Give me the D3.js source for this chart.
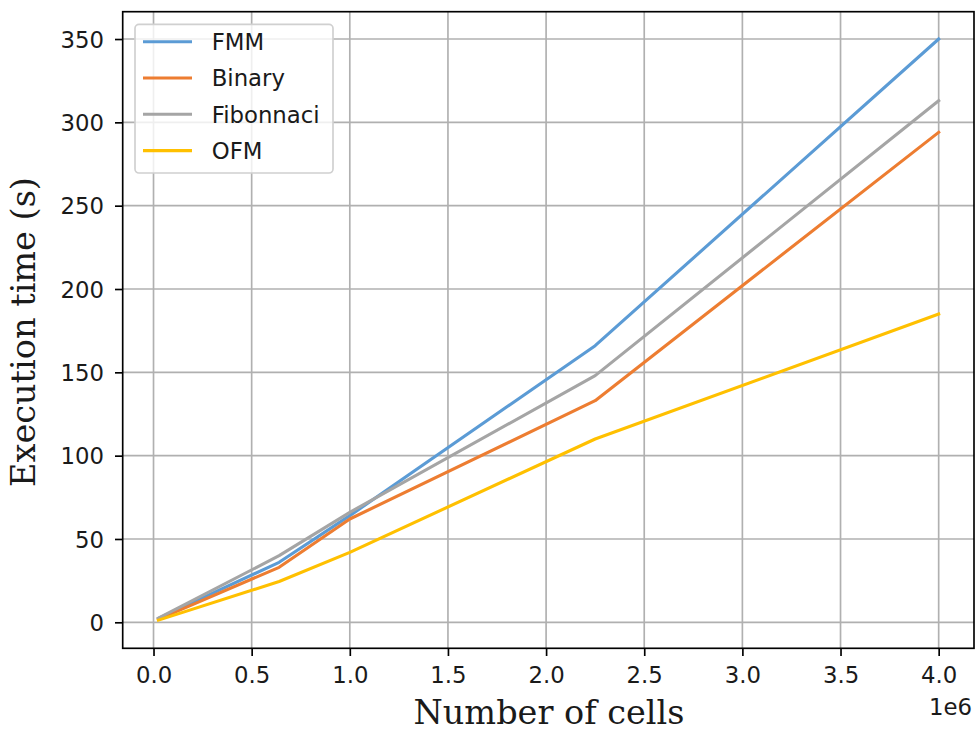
<!DOCTYPE html>
<meta charset="utf-8">
<style>
  body { margin: 0; background: #fff; }
  .tick text { font-family: "DejaVu Sans", sans-serif; font-size: 22.8px; fill: #1a1a1a; }
  .axis-label { font-family: "DejaVu Serif", serif; font-size: 33.5px; fill: #1a1a1a; }
</style>
<body>
<script src="https://d3js.org/d3.v7.min.js"></script>
<script>
// data
var cells = [25000, 640000, 1000000, 2250000, 4000000];
var fmm = [2.3, 36, 64, 166, 350];
var binary = [1.8, 33, 62, 133, 294];
var fibonnaci = [2.5, 40, 66, 148, 313];
var ofm = [1.3, 24.5, 42, 110, 185];
var seriesNames = ["FMM", "Binary", "Fibonnaci", "OFM"];
var seriesColors = ["#5b9bd5", "#ed7d31", "#a5a5a5", "#ffc000"];
var xTicks = [0, 500000, 1000000, 1500000, 2000000, 2500000, 3000000, 3500000, 4000000];
var yTicks = [0, 50, 100, 150, 200, 250, 300, 350];

var allSeries = [fmm, binary, fibonnaci, ofm];

var W = 977, H = 731;
var plot = {left: 122.7, right: 974, top: 11.7, bottom: 648.3};

var x = d3.scaleLinear().domain([-157000, 4180000]).range([plot.left, plot.right]);
var y = d3.scaleLinear().domain([-15.6, 366.4]).range([plot.bottom, plot.top]);

var svg = d3.select("body").append("svg")
    .attr("width", W)
    .attr("height", H);

// grid
svg.append("g").selectAll("line.vg")
  .data(xTicks).enter().append("line")
    .attr("x1", function(d) { return x(d); })
    .attr("x2", function(d) { return x(d); })
    .attr("y1", plot.top).attr("y2", plot.bottom)
    .attr("stroke", "#b0b0b0").attr("stroke-width", 1.67);
svg.append("g").selectAll("line.hg")
  .data(yTicks).enter().append("line")
    .attr("y1", function(d) { return y(d); })
    .attr("y2", function(d) { return y(d); })
    .attr("x1", plot.left).attr("x2", plot.right)
    .attr("stroke", "#b0b0b0").attr("stroke-width", 1.67);

// lines
var line = d3.line()
    .x(function(d, i) { return x(cells[i]); })
    .y(function(d) { return y(d); });

svg.append("g").selectAll("path")
  .data(allSeries).enter().append("path")
    .attr("d", line)
    .attr("fill", "none")
    .attr("stroke", function(d, i) { return seriesColors[i]; })
    .attr("stroke-width", 3.1)
    .attr("stroke-linejoin", "round")
    .attr("stroke-linecap", "square");

// axes
var fmtX = function(d) { return (d / 1e6).toFixed(1); };
var xAxis = svg.append("g")
    .attr("transform", "translate(0," + plot.bottom + ")")
    .call(d3.axisBottom(x).tickValues(xTicks).tickFormat(fmtX).tickSize(7.7).tickPadding(10.5));
var yAxis = svg.append("g")
    .attr("transform", "translate(" + plot.left + ",0)")
    .call(d3.axisLeft(y).tickValues(yTicks).tickSize(7.7).tickPadding(11));
[xAxis, yAxis].forEach(function(a) {
  a.select(".domain").remove();
  a.selectAll(".tick line").attr("stroke", "#000").attr("stroke-width", 1.67);
});
yAxis.selectAll(".tick text").attr("dy", "0.36em");

// frame
svg.append("rect")
    .attr("x", plot.left).attr("y", plot.top)
    .attr("width", plot.right - plot.left)
    .attr("height", plot.bottom - plot.top)
    .attr("fill", "none")
    .attr("stroke", "#000")
    .attr("stroke-width", 1.67);

// offset text
svg.append("text")
    .attr("x", 972).attr("y", 715)
    .attr("text-anchor", "end")
    .style("font-family", "DejaVu Sans, sans-serif")
    .style("font-size", "22.8px")
    .style("fill", "#1a1a1a")
    .text("1e6");

// axis labels
svg.append("text")
    .attr("class", "axis-label")
    .attr("x", 549)
    .attr("y", 724)
    .attr("text-anchor", "middle")
    .text("Number of cells");
svg.append("text")
    .attr("class", "axis-label")
    .attr("transform", "translate(35," + ((plot.top + plot.bottom) / 2 + 2) + ") rotate(-90)")
    .attr("text-anchor", "middle")
    .text("Execution time (s)");

// legend
var legend = svg.append("g");
legend.append("rect")
    .attr("x", 135).attr("y", 24.3)
    .attr("width", 198).attr("height", 148.7)
    .attr("rx", 4).attr("ry", 4)
    .attr("fill", "#fff").attr("fill-opacity", 0.8)
    .attr("stroke", "#d0d0d0").attr("stroke-width", 1.67);
var rows = legend.selectAll("g.row")
  .data(seriesNames).enter().append("g")
    .attr("transform", function(d, i) { return "translate(0," + (41.7 + i * 36.3) + ")"; });
rows.append("line")
    .attr("x1", 143).attr("x2", 192)
    .attr("stroke", function(d, i) { return seriesColors[i]; })
    .attr("stroke-width", 3.1);
rows.append("text")
    .attr("x", 211.7).attr("y", 8.3)
    .style("font-family", "DejaVu Sans, sans-serif")
    .style("font-size", "22.8px")
    .style("fill", "#1a1a1a")
    .text(function(d) { return d; });
</script>
</body>
